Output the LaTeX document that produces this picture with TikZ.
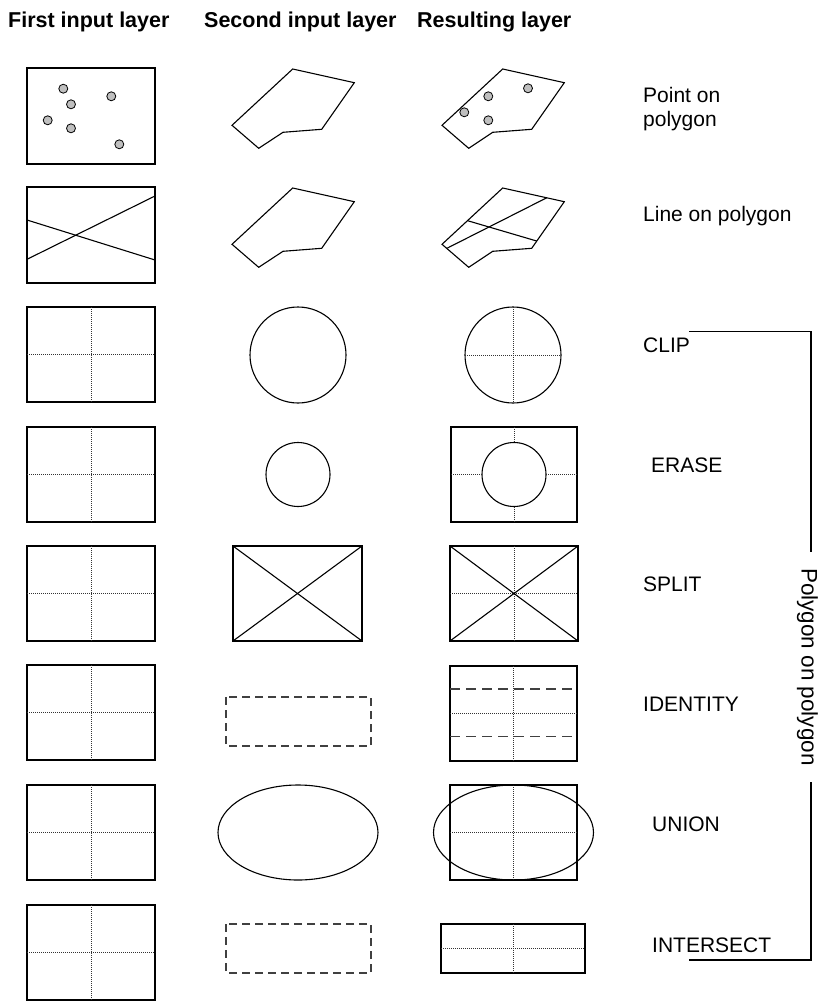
\documentclass[tikz,border=0pt]{standalone}
\usepackage{fontspec}
\setmainfont{Liberation Sans}
\usetikzlibrary{calc}
\begin{document}
\begin{tikzpicture}[x=1pt,y=-1pt,
  outline/.style={draw, line width=1.1pt, line join=miter},
  dotline/.style={line width=0.8pt, dash pattern=on 0.9pt off 1.1pt, black!80},
  dashline/.style={line width=1.1pt, dash pattern=on 8pt off 5pt, black!75},
  longdash/.style={line width=1.2pt, dash pattern=on 10pt off 6pt, black!75},
  ptmark/.style={circle, draw, line width=0.8pt, fill=black!25, minimum size=9pt, inner sep=0pt},
  head/.style={font=\fontsize{21.5}{24}\selectfont\bfseries, anchor=base west, inner sep=0pt},
  lab/.style={font=\fontsize{21}{24}\selectfont, anchor=base west, inner sep=0pt},
]
\useasboundingbox (0,0) rectangle (819,1003);

% headers
\node[head] (h1) at (8,28) {First input layer};
\node[head] (h2) at (204,28) {Second input layer};
\node[head] (h3) at (417,28) {Resulting layer};

% ---------- Row 1: point on polygon
\draw[outline] (27,68) rectangle (155,164);
\foreach \n/\px/\py in {a/63.3/88.7, b/71/104.3, c/111.3/96.3, d/47.7/120.3, e/71/128.3, f/119.3/144.3}
  \node[ptmark] (p\n) at (\px,\py) {};
\draw[outline] (292.7,69) -- (354.3,82.7) -- (321.7,129.3) -- (283,132.3) -- (258.7,148.3) -- (232,125.3) -- cycle;
\draw[outline] (502.7,69) -- (564.3,82.7) -- (531.7,129.3) -- (492.7,132.3) -- (468.7,148.3) -- (442,125.3) -- cycle;
\foreach \n/\px/\py in {a/488.3/96.3, b/528/88.3, c/464.3/112.3, d/488.3/120.3}
  \node[ptmark] (q\n) at (\px,\py) {};
\node[lab, anchor=north west, align=left] (lpoint) at (643,87.5) {Point on\\polygon};

% ---------- Row 2: line on polygon
\draw[outline] (27,187) rectangle (155,283);
\draw[line width=1.1pt] (27,220) -- (155,260);
\draw[line width=1.1pt] (27,259.3) -- (155,196);
\draw[outline] (292.7,188) -- (354.3,201.7) -- (321.7,248.3) -- (283,251.3) -- (258.7,267.3) -- (232,244.3) -- cycle;
\draw[outline] (502.7,188) -- (564.3,201.7) -- (531.7,248.3) -- (492.7,251.3) -- (468.7,267.3) -- (442,244.3) -- cycle;
\draw[line width=1.1pt] (467.6,220.7) -- (536.6,241);
\draw[line width=1.1pt] (446.7,248.4) -- (546.7,197.8);
\node[lab] (lline) at (643,221.5) {Line on polygon};

% ---------- first column: rows 3-8 with dotted cross
\foreach \t in {307,427,546,665,785,905}{
  \draw[outline] (27,\t) rectangle (155,\t+95);
  \draw[dotline] (91,\t) -- (91,\t+95);
  \draw[dotline] (27,\t+47.5) -- (155,\t+47.5);
}

% ---------- Row 3: CLIP
\draw[line width=1.1pt] (298,355) circle[radius=48pt];
\draw[line width=1.1pt] (513,355) circle[radius=48pt];
\draw[dotline] (513,307) -- (513,403);
\draw[dotline] (465,355) -- (561,355);
\node[lab] (lclip) at (643,352) {CLIP};

% ---------- Row 4: ERASE
\draw[line width=1.1pt] (298,474.5) circle[radius=32pt];
\draw[outline] (451,427) rectangle (577,522);
\draw[line width=1.1pt] (514,474.5) circle[radius=32pt];
\draw[dotline] (514,427) -- (514,442.5);
\draw[dotline] (514,506.5) -- (514,522);
\draw[dotline] (451,474.5) -- (482,474.5);
\draw[dotline] (546,474.5) -- (577,474.5);
\node[lab] (lerase) at (651,472) {ERASE};

% ---------- Row 5: SPLIT
\draw[outline] (233,546) rectangle (362,641);
\draw[line width=1.1pt] (233,546) -- (362,641);
\draw[line width=1.1pt] (233,641) -- (362,546);
\draw[outline] (450,546) rectangle (578,641);
\draw[dotline] (514,546) -- (514,641);
\draw[dotline] (450,593.5) -- (578,593.5);
\draw[line width=1.1pt] (450,546) -- (578,641);
\draw[line width=1.1pt] (450,641) -- (578,546);
\node[lab] (lsplit) at (643,591) {SPLIT};

% ---------- Row 6: IDENTITY
\draw[dashline] (226,697) rectangle (371,746);
\draw[outline] (450,666) rectangle (577,761);
\draw[dotline] (513.5,666) -- (513.5,761);
\draw[dotline] (450,713.5) -- (577,713.5);
\draw[longdash] (450,689) -- (577,689);
\draw[longdash] (450,736.5) -- (577,736.5);
\node[lab] (lident) at (643,711) {IDENTITY};

% ---------- Row 7: UNION
\draw[line width=1.1pt] (298,832.5) ellipse[x radius=80pt, y radius=47.5pt];
\draw[draw, line width=2pt] (450,785) rectangle (577,880);
\draw[dotline] (513.5,785) -- (513.5,880);
\draw[dotline] (450,832.5) -- (577,832.5);
\draw[line width=1.1pt] (513.5,832.5) ellipse[x radius=80pt, y radius=47.5pt];
\node[lab] (lunion) at (652,831) {UNION};

% ---------- Row 8: INTERSECT
\draw[dashline] (226,924) rectangle (371,973);
\draw[outline] (441,924) rectangle (585,973);
\draw[dotline] (513,924) -- (513,973);
\draw[dotline] (441,948.5) -- (585,948.5);
\node[lab] (linter) at (652,952) {INTERSECT};

% ---------- bracket
\coordinate (btl) at (689,331.5);
\coordinate (btr) at (811,331.5);
\coordinate (bbr) at (811,960);
\coordinate (bbl) at (689,960);
\node[font=\fontsize{22.5}{26}\selectfont, rotate=-90, inner xsep=16pt, inner ysep=0pt,
      text height=16pt, text depth=4pt] (lpoly) at (807.5,667) {Polygon on polygon};
\draw[line width=1.1pt] (btl) -- (btr) -- (lpoly.west -| btr);
\draw[line width=1.1pt] (lpoly.east -| bbr) -- (bbr) -- (bbl);
\end{tikzpicture}
\end{document}
